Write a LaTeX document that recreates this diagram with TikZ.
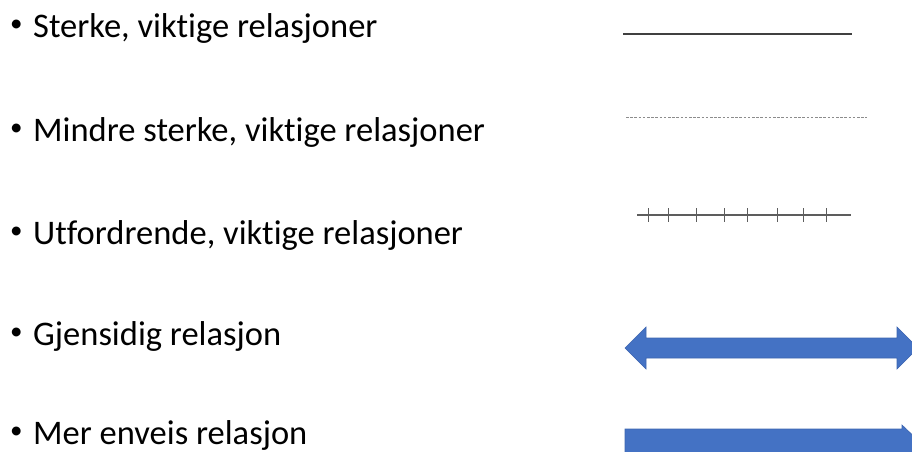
\documentclass[tikz,border=0pt]{standalone}
\usepackage{fontspec}
\setmainfont{Carlito}[Ligatures={NoCommon}]
\definecolor{officeblue}{HTML}{4472C4}
\definecolor{blueedge}{HTML}{3C65B0}
\definecolor{linegray}{HTML}{404040}
\definecolor{dashgray}{HTML}{8C8C8C}
\begin{document}
\begin{tikzpicture}[x=1pt,y=-1pt,
  bullettext/.style={anchor=base west,inner sep=0pt,font=\fontsize{34.5}{40}\selectfont,text=black},
  bulletdot/.style={anchor=base west,inner sep=0pt,font=\fontsize{25}{28}\selectfont,text=black},
  strongline/.style={draw=linegray,line width=1.6pt},
  weakline/.style={draw=dashgray,line width=0.9pt,dash pattern=on 2.6pt off 1.6pt},
  hardline/.style={draw=linegray!85,line width=1.1pt},
  tickmark/.style={draw=linegray!85,line width=1pt},
  bluearrow/.style={fill=officeblue,draw=blueedge,line width=0.6pt,line join=miter}]
\useasboundingbox (0,0) rectangle (912,451);
\clip (0,0) rectangle (912,451);
% bullets and texts
\node[bulletdot] (b1) at (10,31) {•};
\node[bullettext] (t1) at (33,37) {Sterke, viktige relasjoner};
\node[bulletdot] (b2) at (10,135) {•};
\node[bullettext] (t2) at (33,141) {Mindre sterke, viktige relasjoner};
\node[bulletdot] (b3) at (10,238) {•};
\node[bullettext] (t3) at (33,244) {Utfordrende, viktige relasjoner};
\node[bulletdot] (b4) at (10,339) {•};
\node[bullettext] (t4) at (33,345) {Gjensidig relasjon};
\node[bulletdot] (b5) at (10,438) {•};
\node[bullettext] (t5) at (33,444) {Mer enveis relasjon};
% strong line
\coordinate (s1a) at (623,34);
\coordinate (s1b) at (852,34);
\draw[strongline] (s1a) -- (s1b);
% dashed line
\coordinate (s2a) at (626,117);
\coordinate (s2b) at (867,117);
\draw[weakline] (s2a) -- (s2b);
% ticked line
\coordinate (s3a) at (637,215);
\coordinate (s3b) at (851,215);
\draw[hardline] (s3a) -- (s3b);
\foreach \tx in {648,668,696,724,747,777,803,826}
  \draw[tickmark] (\tx,208) -- (\tx,222);
% double arrow
\draw[bluearrow] (625,348) -- (646,327) -- (646,338) -- (897,338) -- (897,327)
  -- (918,348) -- (897,369) -- (897,358) -- (646,358) -- (646,369) -- cycle;
% single arrow
\draw[bluearrow] (625,429) -- (902,429) -- (902,425) -- (924,446) -- (902,467)
  -- (902,463) -- (625,463) -- cycle;
\end{tikzpicture}
\end{document}
